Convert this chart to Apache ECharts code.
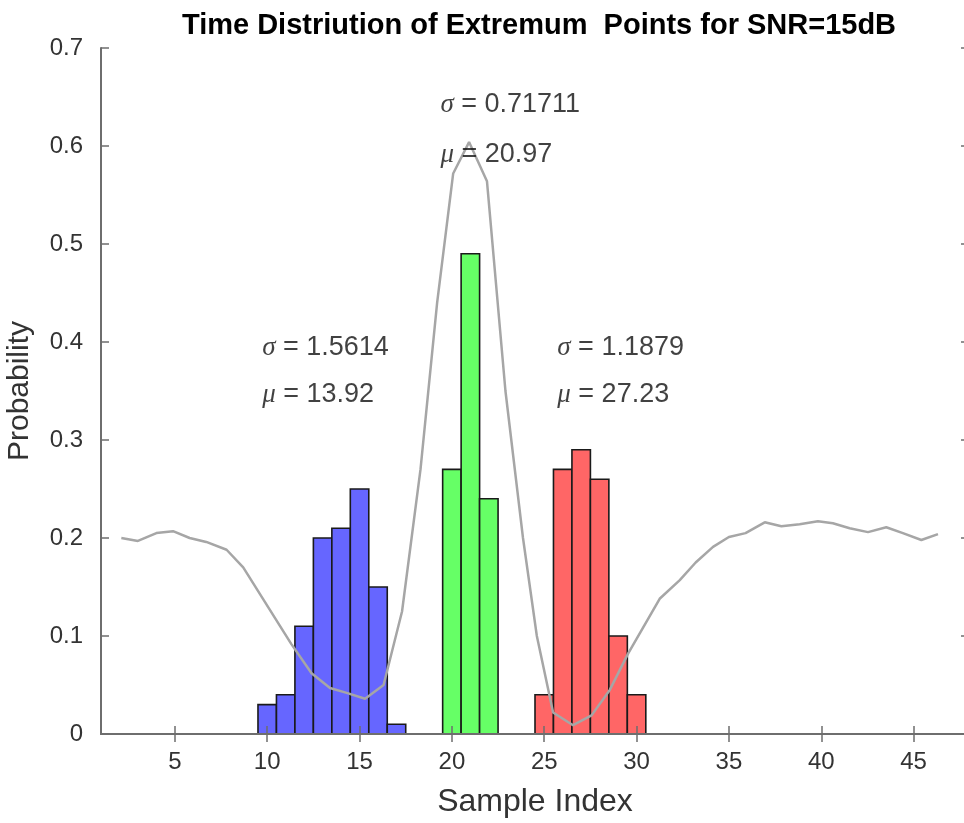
<!DOCTYPE html>
<html>
<head>
<meta charset="utf-8">
<script src="https://cdn.jsdelivr.net/npm/echarts@6/dist/echarts.min.js"></script>
<style>
  html, body { margin: 0; padding: 0; background: #fff; }
  #main { width: 964px; height: 823px; }
</style>
</head>
<body>
<div id="main"></div>
<script>
// histogram bins (centre of each 1-sample bin) and probabilities
const blueX = [10, 11, 12, 13, 14, 15, 16, 17];
const blueP = [0.03, 0.04, 0.11, 0.20, 0.21, 0.25, 0.15, 0.01];
const greenX = [20, 21, 22];
const greenP = [0.27, 0.49, 0.24];
const redX = [25, 26, 27, 28, 29, 30];
const redP = [0.04, 0.27, 0.29, 0.26, 0.10, 0.04];

// grey curve
const curveX = [2.1, 3.0, 4.0, 4.9, 5.8, 6.7, 7.8, 8.7, 11.3, 12.4, 13.4, 14.3, 15.3, 16.3,
  17.3, 18.3, 19.2, 20.07, 20.93, 21.9, 22.9, 23.85, 24.6, 25.48, 26.56, 27.56, 28.55,
  29.54, 31.25, 32.34, 33.2, 34.14, 35.0, 35.9, 36.94, 37.84, 38.83, 39.82, 40.63, 41.54,
  42.53, 43.52, 44.42, 45.42, 46.32];
const curveP = [0.200, 0.197, 0.205, 0.207, 0.200, 0.196, 0.188, 0.170, 0.092, 0.062, 0.047,
  0.042, 0.036, 0.050, 0.125, 0.270, 0.440, 0.572, 0.604, 0.564, 0.350, 0.200, 0.100, 0.022,
  0.009, 0.019, 0.045, 0.082, 0.138, 0.157, 0.175, 0.191, 0.201, 0.205, 0.216, 0.212, 0.214,
  0.217, 0.215, 0.210, 0.206, 0.211, 0.205, 0.198, 0.204];

const xTicks = [5, 10, 15, 20, 25, 30, 35, 40, 45];

// sigma / mu annotations
const annoX = [9.7, 9.7, 19.35, 19.35, 25.68, 25.68];
const annoY = [0.394, 0.346, 0.642, 0.591, 0.394, 0.346];
const annoSym = ['σ', 'μ', 'σ', 'μ', 'σ', 'μ'];
const annoVal = ['1.5614', '13.92', '0.71711', '20.97', '1.1879', '27.23'];

const axisCol = '#6e6e6e';
const txtCol = '#333333';
const sans = '"Liberation Sans", Arial, sans-serif';

function toPairs(xs, ys) {
  return xs.map((x, i) => [x, ys[i]]);
}

function histSeries(name, xs, ys, fill) {
  return {
    name: name,
    type: 'custom',
    z: 2,
    data: toPairs(xs, ys),
    renderItem: function (params, api) {
      const x = api.value(0), y = api.value(1);
      const p0 = api.coord([x - 0.5, y]);
      const p1 = api.coord([x + 0.5, 0]);
      return {
        type: 'rect',
        shape: { x: p0[0], y: p0[1], width: p1[0] - p0[0], height: p1[1] - p0[1] },
        style: { fill: fill, stroke: '#1a1a1a', lineWidth: 1.6 }
      };
    }
  };
}

const chart = echarts.init(document.getElementById('main'));

chart.setOption({
  animation: false,
  backgroundColor: '#fff',
  title: {
    text: 'Time Distriution of Extremum  Points for SNR=15dB',
    left: 534,
    textAlign: 'center',
    top: 6,
    textStyle: { fontFamily: sans, fontWeight: 'bold', fontSize: 29, color: '#000' }
  },
  grid: { left: 101, top: 48, right: -5, bottom: 89, containLabel: false, outerBoundsMode: 'none' },
  xAxis: [{
    type: 'value',
    min: 1,
    max: 48,
    name: 'Sample Index',
    nameLocation: 'middle',
    nameGap: 52,
    nameTextStyle: { fontFamily: sans, fontSize: 32, color: txtCol },
    z: 5,
    axisLine: { lineStyle: { color: axisCol, width: 2 } },
    axisTick: { inside: true, length: 8, customValues: xTicks, lineStyle: { color: axisCol, width: 1.5 } },
    axisLabel: { customValues: xTicks, fontFamily: sans, fontSize: 24, color: txtCol, margin: 16 },
    splitLine: { show: false }
  }, {
    type: 'value',
    position: 'top',
    min: 1,
    max: 48,
    z: 5,
    axisLine: { show: true, lineStyle: { color: axisCol, width: 2 } },
    axisTick: { inside: true, length: 8, customValues: xTicks, lineStyle: { color: axisCol, width: 1.5 } },
    axisLabel: { show: false },
    splitLine: { show: false }
  }],
  yAxis: [{
    type: 'value',
    min: 0,
    max: 0.7,
    interval: 0.1,
    name: 'Probability',
    nameLocation: 'middle',
    nameGap: 66,
    nameTextStyle: { fontFamily: sans, fontSize: 30, color: txtCol },
    z: 5,
    axisLine: { show: true, lineStyle: { color: axisCol, width: 2 } },
    axisTick: { show: true, inside: true, length: 8, lineStyle: { color: axisCol, width: 1.5 } },
    axisLabel: {
      fontFamily: sans, fontSize: 24, color: txtCol, margin: 18,
      formatter: v => (Math.round(v * 10) / 10).toString()
    },
    splitLine: { show: false }
  }, {
    type: 'value',
    position: 'right',
    min: 0,
    max: 0.7,
    interval: 0.1,
    z: 5,
    axisLine: { show: true, lineStyle: { color: axisCol, width: 2 } },
    axisTick: { show: true, inside: true, length: 8, lineStyle: { color: axisCol, width: 1.5 } },
    axisLabel: { show: false },
    splitLine: { show: false }
  }],
  series: [
    histSeries('blue', blueX, blueP, '#6666ff'),
    histSeries('green', greenX, greenP, '#66ff66'),
    histSeries('red', redX, redP, '#ff6666'),
    {
      name: 'curve',
      type: 'line',
      z: 3,
      data: toPairs(curveX, curveP),
      showSymbol: false,
      symbol: 'none',
      lineStyle: { color: '#a6a6a6', width: 2.5 }
    },
    {
      name: 'notes',
      type: 'scatter',
      z: 4,
      symbolSize: 1,
      itemStyle: { color: 'transparent' },
      data: annoX.map((x, i) => ({ value: [x, annoY[i]], sym: annoSym[i], val: annoVal[i] })),
      label: {
        show: true,
        position: 'right',
        distance: 0,
        color: '#000',
        formatter: p => '{g|' + p.data.sym + '}{t| = ' + p.data.val + '}',
        rich: {
          g: { fontFamily: '"Liberation Serif", "DejaVu Serif", serif', fontStyle: 'italic', fontSize: 27, color: '#111' },
          t: { fontFamily: sans, fontSize: 27, color: '#111' }
        }
      }
    }
  ]
});
</script>
</body>
</html>
